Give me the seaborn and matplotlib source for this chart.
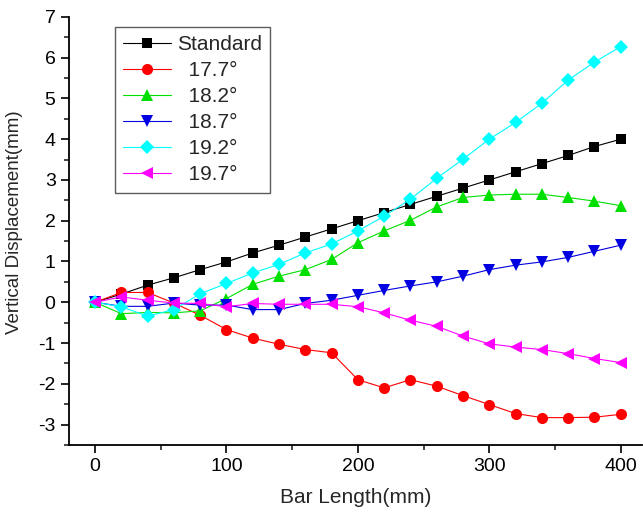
import matplotlib
matplotlib.use('Agg')
import matplotlib.pyplot as plt
from matplotlib.ticker import MultipleLocator
import seaborn as sns
import pandas as pd

# bar length positions (mm)
bar_length = [0, 20, 40, 60, 80, 100, 120, 140, 160, 180, 200,
              220, 240, 260, 280, 300, 320, 340, 360, 380, 400]

standard = [0, 0.2, 0.42, 0.6, 0.8, 0.99, 1.21, 1.4, 1.6, 1.8, 2.0,
            2.2, 2.4, 2.6, 2.8, 3.0, 3.2, 3.4, 3.6, 3.82, 4.0]
deg_177 = [0, 0.24, 0.24, -0.02, -0.32, -0.67, -0.88, -1.03, -1.16, -1.24, -1.9,
           -2.1, -1.9, -2.06, -2.29, -2.51, -2.73, -2.83, -2.83, -2.82, -2.75]
deg_182 = [0, -0.28, -0.25, -0.26, -0.21, 0.09, 0.44, 0.64, 0.8, 1.05, 1.46,
           1.75, 2.01, 2.34, 2.57, 2.63, 2.65, 2.65, 2.57, 2.48, 2.37]
deg_187 = [0, -0.1, -0.1, -0.02, -0.07, -0.07, -0.18, -0.18, -0.03, 0.05, 0.17,
           0.29, 0.4, 0.5, 0.64, 0.8, 0.91, 0.99, 1.1, 1.25, 1.4]
deg_192 = [0, -0.11, -0.34, -0.18, 0.21, 0.46, 0.72, 0.93, 1.21, 1.43, 1.75,
           2.11, 2.53, 3.04, 3.51, 4.0, 4.41, 4.88, 5.45, 5.89, 6.27]
deg_197 = [0, 0.13, 0.05, -0.02, -0.03, -0.11, -0.03, -0.05, -0.05, -0.05, -0.11,
           -0.26, -0.44, -0.59, -0.83, -1.02, -1.1, -1.16, -1.26, -1.38, -1.48]

series_labels = ['Standard', '  17.7°', '  18.2°', '  18.7°', '  19.2°', '  19.7°']
series_values = [standard, deg_177, deg_182, deg_187, deg_192, deg_197]
series_colors = ['black', '#ff0000', '#00e000', '#0000e0', '#00ffff', '#ff00ff']
series_markers = ['s', 'o', '^', 'v', 'D', '<']
marker_sizes = [6.5, 8, 8.5, 8.5, 7, 8.5]

sns.set_style('ticks')
plt.rcParams['font.family'] = ['Liberation Sans', 'DejaVu Sans']
plt.rcParams['axes.unicode_minus'] = False

fig = plt.figure(figsize=(6.43, 5.12), dpi=100)
ax = fig.add_axes([0.107, 0.131, 0.891, 0.836])

for label, vals, color, marker, ms in zip(series_labels, series_values,
                                           series_colors, series_markers, marker_sizes):
    df = pd.DataFrame({'x': bar_length, 'y': vals})
    sns.lineplot(data=df, x='x', y='y', ax=ax, color=color, marker=marker,
                 markersize=ms, markeredgewidth=0, linewidth=0.8, label=label)

ax.set_xlim(-20, 416)
ax.set_ylim(-3.5, 7)
ax.xaxis.set_major_locator(MultipleLocator(100))
ax.xaxis.set_minor_locator(MultipleLocator(50))
ax.yaxis.set_major_locator(MultipleLocator(1))
ax.yaxis.set_minor_locator(MultipleLocator(0.5))
ax.tick_params(which='major', direction='out', length=6, width=1.2,
               labelsize=14, colors='black')
ax.tick_params(which='minor', direction='out', length=3.5, width=1.2)

sns.despine(ax=ax)
for side in ['left', 'bottom']:
    ax.spines[side].set_linewidth(1.3)
    ax.spines[side].set_color('black')

ax.set_xlabel('Bar Length(mm)', fontsize=15, labelpad=9)
ax.set_ylabel('Vertical Displacement(mm)', fontsize=13.5)
ax.yaxis.set_label_coords(-0.08, 0.52)

leg = ax.legend(loc='upper left', bbox_to_anchor=(0.080, 0.977), fontsize=15,
                frameon=True, fancybox=False, edgecolor='#333333',
                handlelength=2.3, handletextpad=0.3, labelspacing=0.34,
                borderpad=0.4, borderaxespad=0)
leg.get_frame().set_linewidth(1.0)

plt.savefig('out.png', dpi=100)
